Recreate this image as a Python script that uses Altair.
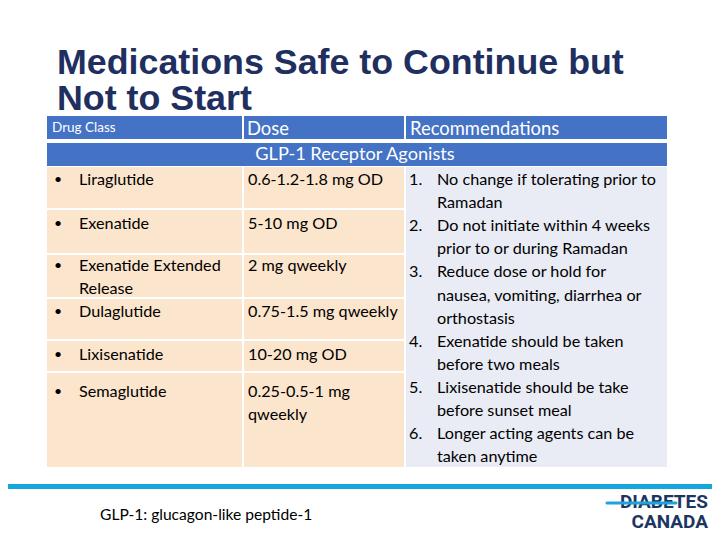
import altair as alt
import pandas as pd

# ---------------- content ----------------
title_lines = ["Medications Safe to Continue but", "Not to Start"]
header_labels = ["Drug Class", "Dose", "Recommendations"]
group_label = "GLP-1 Receptor Agonists"
drugs = ["Liraglutide", "Exenatide", "Exenatide Extended\nRelease", "Dulaglutide",
         "Lixisenatide", "Semaglutide"]
doses = ["0.6-1.2-1.8 mg OD", "5-10 mg OD", "2 mg  qweekly", "0.75-1.5 mg qweekly",
         "10-20 mg OD", "0.25-0.5-1 mg\nqweekly"]
recommendations = [
    "No change if tolerating prior to\nRamadan",
    "Do not initiate within 4 weeks\nprior to or during Ramadan",
    "Reduce dose or hold for\nnausea, vomiting, diarrhea or\northostasis",
    "Exenatide should be taken\nbefore two meals",
    "Lixisenatide should be take\nbefore sunset meal",
    "Longer acting  agents can be\ntaken anytime",
]
footnote = "GLP-1: glucagon-like peptide-1"
logo_lines = ["DIABETES", "CANADA"]

# ---------------- layout (screen pixel coordinates) ----------------
col_x = [(47, 242), (244, 404), (406, 667)]
row_tops = [167, 210, 255, 299, 341, 373]
row_bots = [208, 253, 297, 339, 371, 467]
row_text_y = [180, 224, 266, 312, 355, 392]  # first line centre per row
line_h = 23
rec_y0, rec_lh = 180, 23.1

BLUE = "#4472C4"
TAN = "#FBE5CC"
LAV = "#E9EBF5"
NAVY = "#1F2F5F"

xs = alt.Scale(domain=[8, 712], nice=False, zero=False)
ys = alt.Scale(domain=[8, 532], nice=False, zero=False, reverse=True)

# ---------------- rectangles ----------------
rects = []
for (x0, x1) in col_x:
    rects.append(dict(x=x0, x2=x1, y=116, y2=139, fill=BLUE))
rects.append(dict(x=47, x2=667, y=143, y2=166, fill=BLUE))
for t, b in zip(row_tops, row_bots):
    for (x0, x1) in col_x[:2]:
        rects.append(dict(x=x0, x2=x1, y=t, y2=b, fill=TAN))
rects.append(dict(x=406, x2=667, y=167, y2=467, fill=LAV))
rects.append(dict(x=8, x2=712, y=484, y2=489, fill="#16A6DE"))
rect_df = pd.DataFrame(rects)

rect_layer = alt.Chart(rect_df).mark_rect(clip=False).encode(
    x=alt.X("x:Q", scale=xs, axis=None), x2="x2:Q",
    y=alt.Y("y:Q", scale=ys, axis=None), y2="y2:Q",
    color=alt.Color("fill:N", scale=None),
)

# logo strike line
strike_df = pd.DataFrame([dict(x=607, x2=676, y=503)])
strike = alt.Chart(strike_df).mark_rule(strokeWidth=3, color="#1BA5DC", strokeCap="round").encode(
    x=alt.X("x:Q", scale=xs, axis=None), x2="x2:Q", y=alt.Y("y:Q", scale=ys, axis=None))


def text_layer(rows, font, size, color, weight="normal", align="left"):
    df = pd.DataFrame(rows)
    return alt.Chart(df).mark_text(font=font, fontSize=size, color=color, fontWeight=weight,
                                   align=align, baseline="middle", clip=False).encode(
        x=alt.X("x:Q", scale=xs, axis=None),
        y=alt.Y("y:Q", scale=ys, axis=None),
        text="t:N")


BODY = "Lato"
BS = 16.2
layers = [rect_layer]

# title
layers.append(alt.Chart(pd.DataFrame([dict(x=57, y=74, t=title_lines[0]),
                                      dict(x=57, y=110, t=title_lines[1])]))
              .mark_text(font="Liberation Sans", fontSize=35.8, fontWeight="bold", color=NAVY,
                         align="left", baseline="alphabetic", clip=False)
              .encode(x=alt.X("x:Q", scale=xs, axis=None), y=alt.Y("y:Q", scale=ys, axis=None), text="t:N"))

# header texts
layers.append(text_layer([dict(x=52, y=128, t=header_labels[0])], BODY, 13.5, "white"))
layers.append(text_layer([dict(x=247, y=129, t=header_labels[1]),
                          dict(x=410, y=129, t=header_labels[2])], BODY, 18.4, "white"))
layers.append(text_layer([dict(x=355, y=155, t=group_label)], BODY, 18.2, "white", align="center"))

# drug rows
bullet_rows, name_rows, dose_rows = [], [], []
for i, (d, ds) in enumerate(zip(drugs, doses)):
    y0 = row_text_y[i]
    bullet_rows.append(dict(x=58, y=y0, t="•"))
    for k, line in enumerate(d.split("\n")):
        name_rows.append(dict(x=79, y=y0 + k * line_h, t=line))
    for k, line in enumerate(ds.split("\n")):
        dose_rows.append(dict(x=248, y=y0 + k * line_h, t=line))
layers.append(text_layer(bullet_rows, BODY, 14, "black", align="center"))
layers.append(text_layer(name_rows, BODY, BS, "black"))
layers.append(text_layer(dose_rows, BODY, BS, "black"))

# recommendations
num_rows, rec_rows = [], []
li = 0
for i, r in enumerate(recommendations):
    num_rows.append(dict(x=409, y=rec_y0 + li * rec_lh, t=f"{i + 1}."))
    for line in r.split("\n"):
        rec_rows.append(dict(x=437, y=rec_y0 + li * rec_lh, t=line))
        li += 1
layers.append(text_layer(num_rows, BODY, BS, "black"))
layers.append(text_layer(rec_rows, BODY, BS, "black"))

# footnote
layers.append(text_layer([dict(x=100, y=515, t=footnote)], BODY, 15.6, "black"))

# logo
layers.append(text_layer([dict(x=708, y=502, t=logo_lines[0]),
                          dict(x=708, y=522, t=logo_lines[1])],
                         "Roboto", 19, "#1C3561", weight="bold", align="right"))
layers.append(strike)

chart = alt.layer(*layers).properties(
    width=704, height=524, padding=0,
    autosize=alt.AutoSizeParams(type="fit", contains="padding"),
).configure_view(stroke=None)

chart.save("out.html", embed_options={"renderer": "svg", "actions": False})
